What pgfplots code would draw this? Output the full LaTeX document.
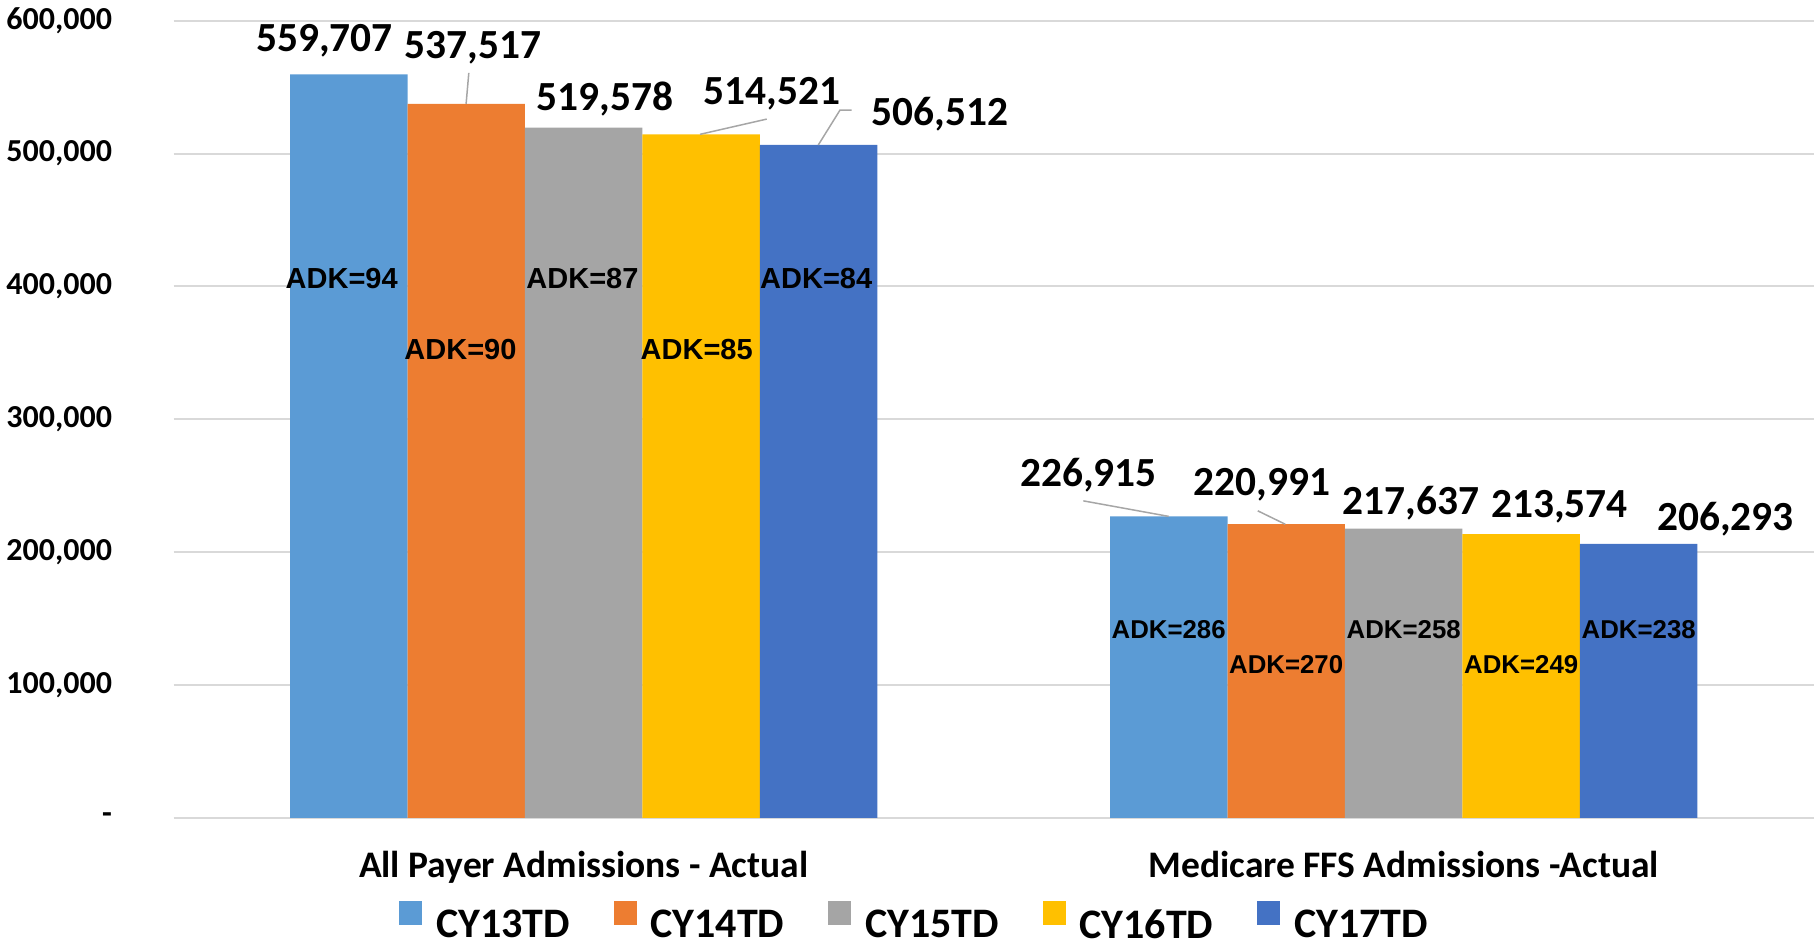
\documentclass[border=0pt]{standalone}
\usepackage{fontspec}
\setmainfont{Carlito}
\newfontfamily\arialfont{Liberation Sans}
\usepackage{pgfplots}
\pgfplotsset{compat=1.18}
\definecolor{c13}{HTML}{5B9BD5}
\definecolor{c14}{HTML}{ED7D31}
\definecolor{c15}{HTML}{A5A5A5}
\definecolor{c16}{HTML}{FFC000}
\definecolor{c17}{HTML}{4472C4}
\definecolor{gridgray}{HTML}{D9D9D9}
\definecolor{leadgray}{HTML}{A6A6A6}
\tikzset{
  vlab/.style={font=\bfseries\fontsize{20.7bp}{24bp}\selectfont, anchor=base, inner sep=0pt},
  alab/.style={font=\arialfont\bfseries\fontsize{14.5bp}{16bp}\selectfont, anchor=base, inner sep=0pt},
  blab/.style={font=\arialfont\bfseries\fontsize{12.9bp}{15bp}\selectfont, anchor=base, inner sep=0pt},
  lead/.style={draw=leadgray, line width=0.75bp},
}
\begin{document}
\begin{tikzpicture}
\begin{axis}[
  name=ax,
  scale only axis, width=820bp, height=398.5bp,
  xmin=-0.5, xmax=1.5, ymin=0, ymax=600000,
  ybar=0pt, bar width=0.1432,
  axis line style={draw=none},
  major tick length=0pt,
  xtick={0,1},
  xticklabels={All Payer Admissions - Actual, Medicare FFS Admissions -Actual},
  xticklabel style={font=\bfseries\fontsize{18.75bp}{21bp}\selectfont, anchor=base, inner sep=0pt, yshift=-30bp},
  ytick={0,100000,200000,300000,400000,500000,600000},
  yticklabels={-,{100,000},{200,000},{300,000},{400,000},{500,000},{600,000}},
  yticklabel style={font=\bfseries\fontsize{16bp}{18bp}\selectfont, anchor=east, inner sep=0pt, xshift=-30.65bp},
  ymajorgrids, grid style={draw=gridgray, line width=1bp},
  clip=false,
  legend columns=5,
  legend style={at={(0.1374,-0.1296)}, anchor=west, draw=none, fill=none, inner sep=0pt,
    font=\bfseries\fontsize{21bp}{24bp}\selectfont, nodes={inner sep=0pt},
    /tikz/every odd column/.append style={column sep=6.8bp},
    /tikz/every even column/.append style={column sep=22bp}},
  legend image code/.code={\fill[#1] (0bp,0bp) rectangle (11.5bp,12bp);},
]
\addplot[fill=c13, draw=none] coordinates {(0,559707) (1,226915)};
\addplot[fill=c14, draw=none] coordinates {(0,537517) (1,220991)};
\addplot[fill=c15, draw=none] coordinates {(0,519578) (1,217637)};
\addplot[fill=c16, draw=none] coordinates {(0,514521) (1,213574)};
\addplot[fill=c17, draw=none] coordinates {(0,506512) (1,206293)};
\legend{CY13TD, CY14TD, CY15TD, CY16TD, CY17TD}
% value labels
\node[vlab] at (axis cs:-0.3163,576700) {559,707};
\node[vlab] at (axis cs:-0.1350,571700) {537,517};
\node[vlab] at (axis cs:0.0260,532300) {519,578};
\node[vlab] at (axis cs:0.2293,537200) {514,521};
\node[vlab] at (axis cs:0.4345,521500) {506,512};
\node[vlab] at (axis cs:0.6156,249300) {226,915};
\node[vlab] at (axis cs:0.8272,242300) {220,991};
\node[vlab] at (axis cs:1.0089,228400) {217,637};
\node[vlab] at (axis cs:1.1901,226200) {213,574};
\node[vlab] at (axis cs:1.3924,216000) {206,293};
% leader lines
\draw[lead] (axis cs:-0.1401,560800) -- (axis cs:-0.1434,537517);
\draw[lead] (axis cs:0.1418,514521) -- (axis cs:0.2232,526000);
\draw[lead] (axis cs:0.2861,506512) -- (axis cs:0.3126,532800) -- (axis cs:0.3268,532800);
\draw[lead] (axis cs:0.6093,238600) -- (axis cs:0.7134,226915);
\draw[lead] (axis cs:0.8220,231100) -- (axis cs:0.8556,220991);
% ADK labels
\node[alab] at (axis cs:-0.2951,398500) {ADK=94};
\node[alab] at (axis cs:-0.1503,345300) {ADK=90};
\node[alab] at (axis cs:-0.0015,398500) {ADK=87};
\node[alab] at (axis cs:0.1378,345300) {ADK=85};
\node[alab] at (axis cs:0.2836,398500) {ADK=84};
\node[blab] at (axis cs:0.7134,135200) {ADK=286};
\node[blab] at (axis cs:0.8567,109000) {ADK=270};
\node[blab] at (axis cs:1,135200) {ADK=258};
\node[blab] at (axis cs:1.1433,109000) {ADK=249};
\node[blab] at (axis cs:1.2866,135200) {ADK=238};
\end{axis}
\pgfresetboundingbox
\path ([xshift=-86.85bp,yshift=-63.15bp]ax.south west) rectangle ([xshift=1.15bp,yshift=10.4bp]ax.north east);
\end{tikzpicture}
\end{document}
